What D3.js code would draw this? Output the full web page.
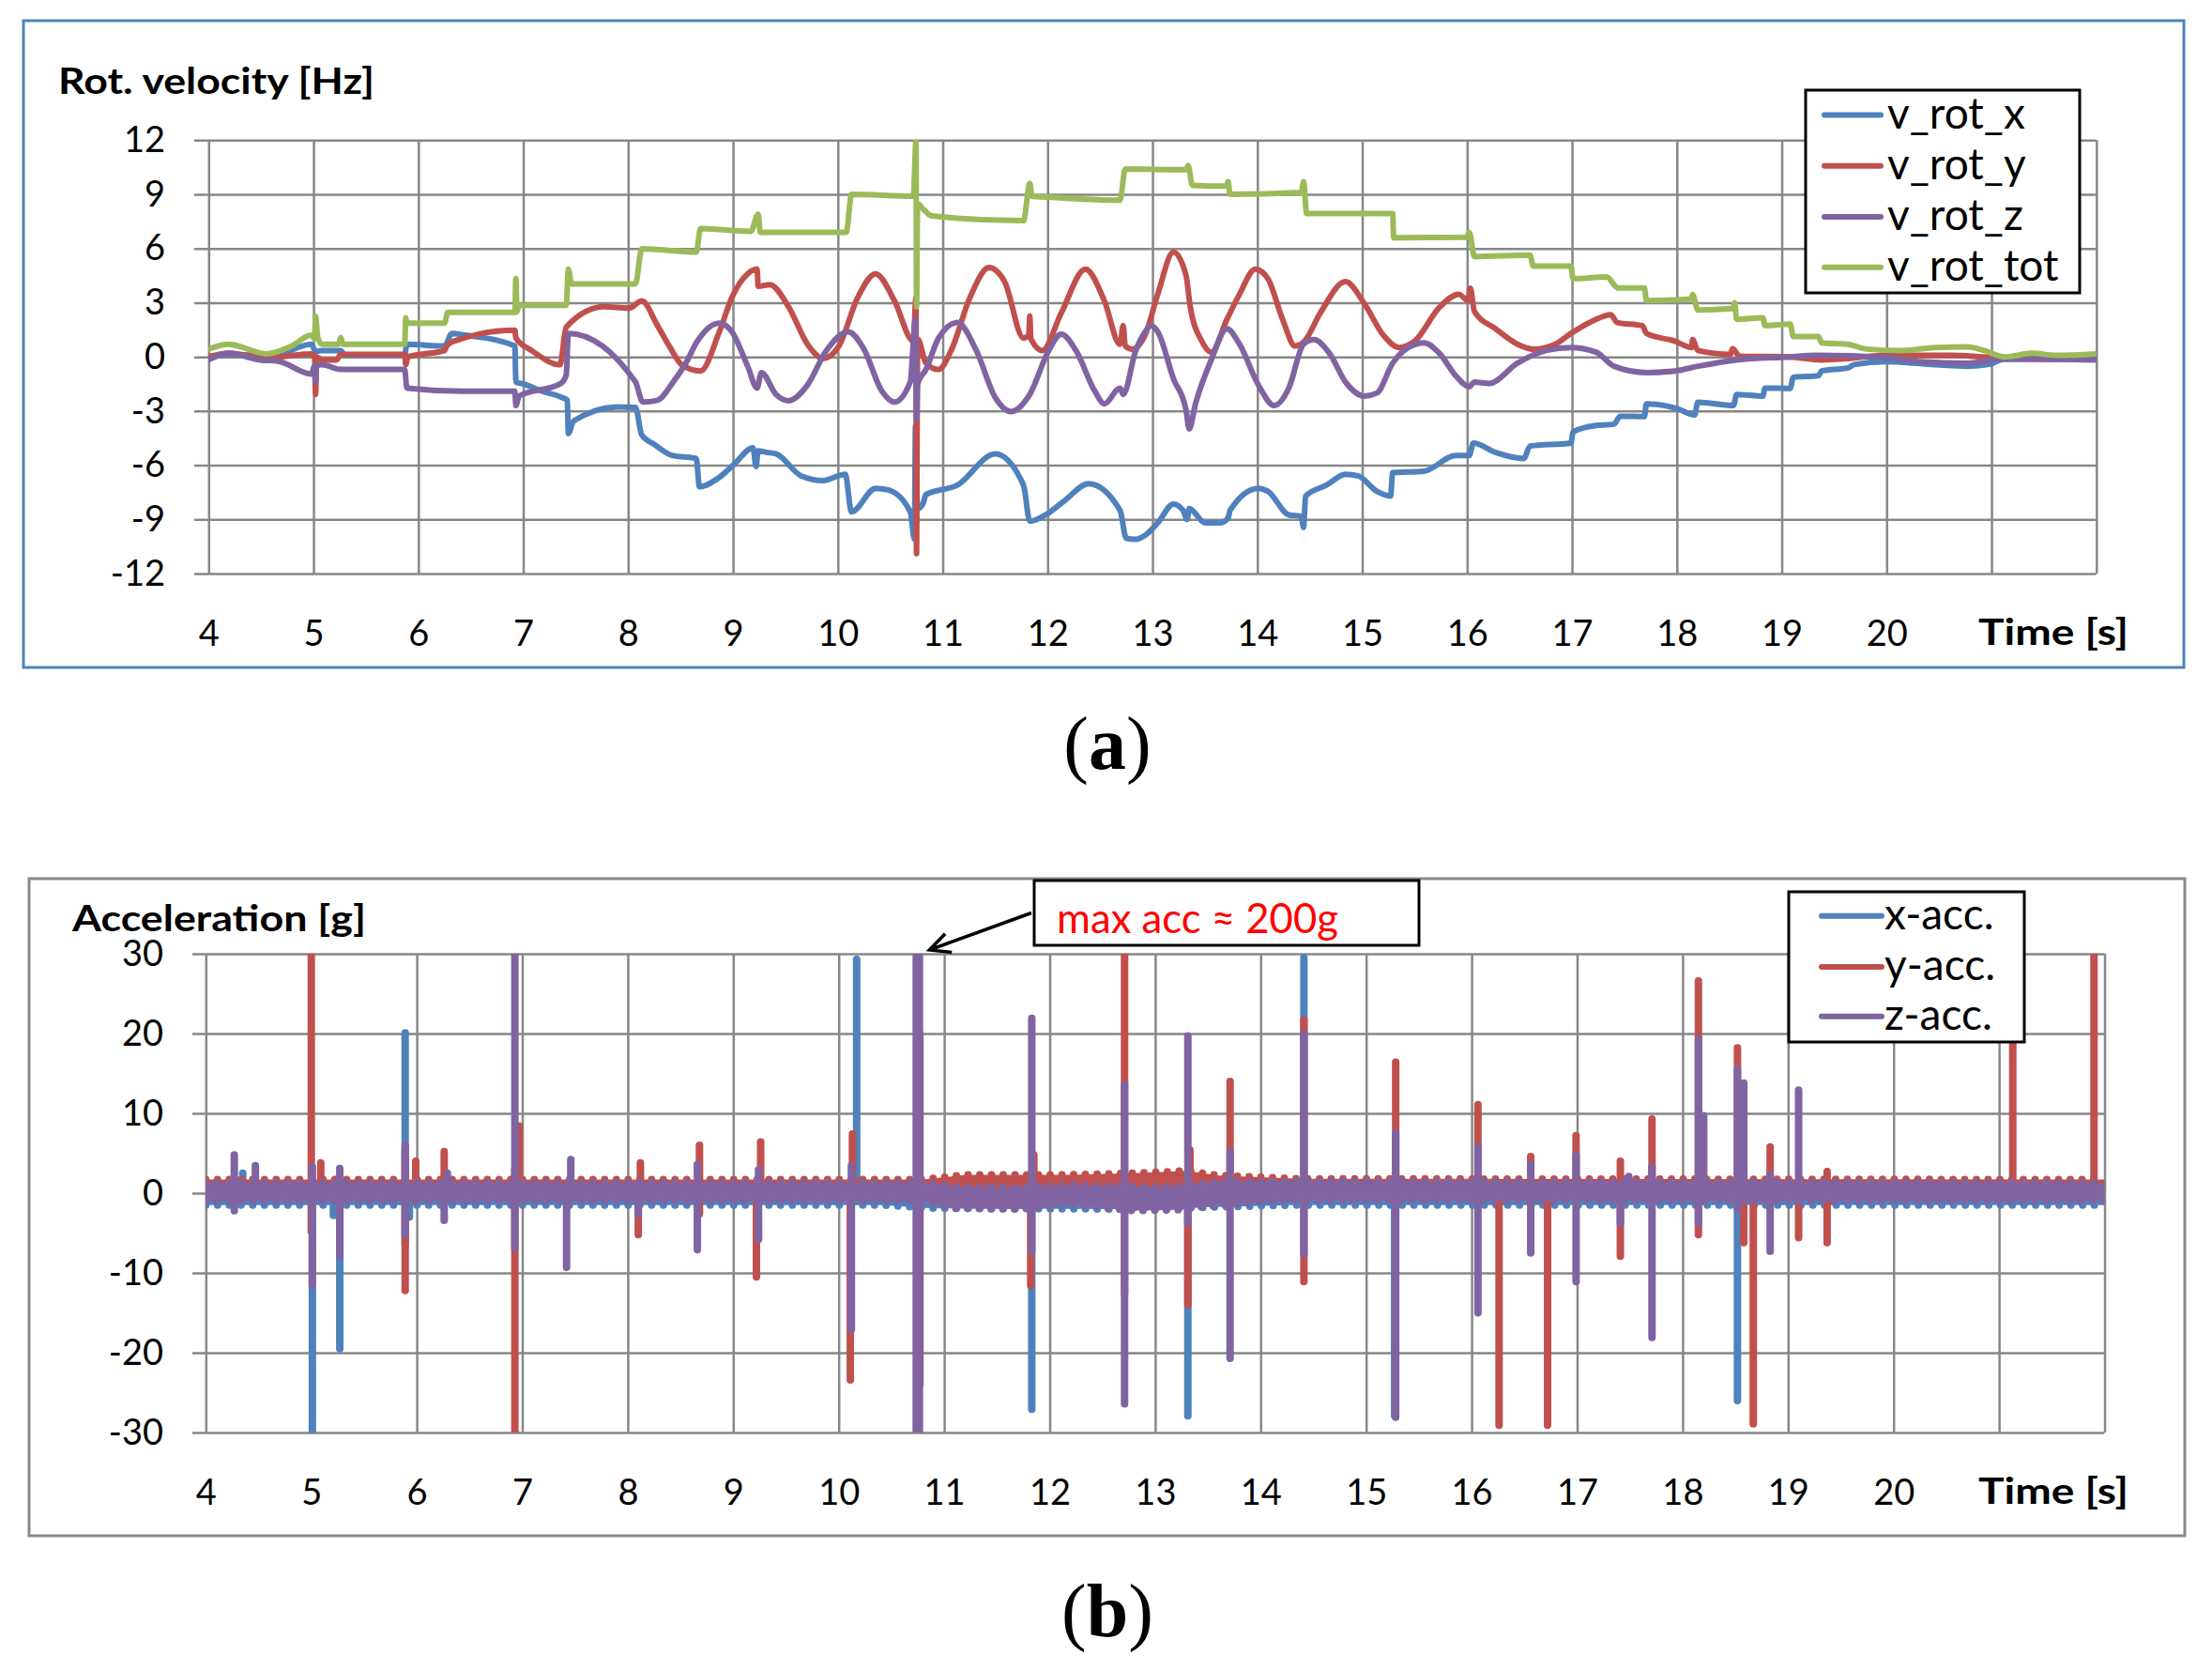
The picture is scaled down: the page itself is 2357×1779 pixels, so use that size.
<!DOCTYPE html>
<html>
<head>
<meta charset="utf-8">
<script src="https://cdn.jsdelivr.net/npm/d3@7"></script>
<style>
  body { margin: 0; background: #fff; }
  svg { display: block; }
</style>
</head>
<body>
<svg id="chart"></svg>
<script>
/* values: (a) rotation velocity, (b) acceleration */

const timeTicks = [4, 5, 6, 7, 8, 9, 10, 11, 12, 13, 14, 15, 16, 17, 18, 19, 20, 21, 22];
const rotTicks = [-12, -9, -6, -3, 0, 3, 6, 9, 12];
const accTicks = [-30, -20, -10, 0, 10, 20, 30];

const rotNames = ["v_rot_x", "v_rot_y", "v_rot_z", "v_rot_tot"];
const accNames = ["x-acc.", "y-acc.", "z-acc."];
const colors = ["#4f81bd", "#c0504d", "#8064a2", "#9bbb59"];

// [time s, velocity Hz]
const vRotX = [[4.00,0.0],[4.19,0.14],[4.6,0.05],[4.98,0.7],[5.02,0.3],[5.08,0.35],[5.26,0.35],[5.3,0.1],[5.87,0.1],[5.89,0.7],
  [6.25,0.6],[6.32,1.3],[6.45,1.2],[6.92,0.6],[6.93,-1.4],[7.0,-1.5],[7.18,-1.9],[7.37,-2.25],[7.42,-2.4],[7.43,-4.25],[7.48,-3.55],
  [7.9,-2.77],[8.07,-2.8],[8.13,-4.33],[8.25,-4.85],[8.42,-5.46],[8.65,-5.63],[8.68,-7.19],[8.87,-6.67],[9.02,-5.89],[9.19,-5.03],
  [9.22,-6.07],[9.24,-5.2],[9.32,-5.29],[9.41,-5.37],[9.65,-6.59],[9.86,-6.85],[10.07,-6.5],[10.13,-8.58],[10.36,-7.28],[10.48,-7.37],
  [10.69,-8.58],[10.73,-10.1],[10.74,-3.8],[10.76,-8.4],[10.81,-8.15],[10.84,-7.63],[11.14,-7.1],[11.5,-5.37],[11.77,-7.1],[11.83,-9.1],
  [11.98,-8.75],[12.16,-7.97],[12.39,-7.02],[12.69,-8.49],[12.75,-10.05],[12.84,-10.1],[12.93,-9.88],[13.05,-9.19],[13.2,-8.15],
  [13.29,-8.49],[13.33,-9.0],[13.35,-8.4],[13.5,-9.19],[13.65,-9.19],[13.72,-8.93],[13.74,-8.5],[14.01,-7.28],[14.1,-7.45],[14.3,-8.75],
  [14.42,-8.84],[14.44,-9.45],[14.46,-7.71],[14.66,-7.1],[14.84,-6.5],[14.96,-6.59],[15.14,-7.45],[15.27,-7.71],[15.29,-6.41],
  [15.59,-6.33],[15.89,-5.46],[16.02,-5.46],[16.06,-4.77],[16.27,-5.29],[16.54,-5.63],[16.6,-4.94],[16.99,-4.77],[17.01,-4.16],
  [17.21,-3.81],[17.4,-3.73],[17.46,-3.29],[17.69,-3.3],[17.71,-2.6],[18.0,-2.86],[18.17,-3.21],[18.2,-2.51],[18.54,-2.69],[18.57,-2.08],
  [18.82,-2.17],[18.84,-1.73],[19.08,-1.75],[19.11,-1.13],[19.35,-1.04],[19.38,-0.78],[19.63,-0.61],[19.69,-0.43],[20.0,-0.26],
  [20.46,-0.43],[20.77,-0.52],[20.99,-0.4],[21.13,-0.09],[22.0,-0.17]];

const vRotY = [[4.0,0.0],[4.19,0.2],[4.55,-0.05],[4.98,0.17],[5.01,0.1],[5.02,-2.08],[5.03,0.0],[5.08,-0.17],[5.22,-0.17],[5.26,0.14],
  [5.87,0.14],[5.88,-0.43],[5.9,0.0],[6.25,0.35],[6.27,0.6],[6.34,0.87],[6.92,1.47],[6.93,1.04],[7.08,0.35],[7.35,-0.43],[7.41,1.65],
  [7.77,2.77],[8.01,2.7],[8.13,3.1],[8.28,1.73],[8.4,0.52],[8.51,-0.43],[8.69,-0.78],[8.87,1.39],[8.99,3.3],[9.14,4.6],[9.23,4.85],
  [9.24,3.9],[9.35,4.0],[9.53,2.77],[9.71,0.7],[9.86,-0.09],[10.01,0.6],[10.19,3.3],[10.36,4.6],[10.54,3.1],[10.72,0.87],[10.745,3.3],
  [10.75,-10.9],[10.76,1.0],[10.84,-0.35],[10.96,-0.7],[11.08,0.35],[11.26,3.3],[11.44,4.94],[11.59,4.16],[11.77,1.04],[11.82,1.2],
  [11.83,2.25],[11.84,1.0],[11.95,0.35],[12.13,2.43],[12.36,4.85],[12.54,3.12],[12.69,0.7],[12.72,1.73],[12.74,0.6],[12.81,0.43],
  [12.93,1.21],[13.05,3.47],[13.2,5.8],[13.32,4.5],[13.36,2.77],[13.47,0.87],[13.56,0.26],[13.71,2.08],[13.83,3.47],[13.98,4.85],
  [14.1,4.33],[14.24,2.08],[14.36,0.6],[14.45,0.87],[14.6,2.43],[14.84,4.16],[15.02,2.95],[15.2,1.21],[15.35,0.52],[15.5,0.87],
  [15.74,2.77],[15.92,3.47],[16.01,3.12],[16.03,3.8],[16.07,2.51],[16.27,1.56],[16.48,0.7],[16.63,0.43],[16.84,0.7],[16.99,1.3],
  [17.2,2.0],[17.37,2.34],[17.43,1.9],[17.67,1.73],[17.71,1.3],[17.98,0.87],[18.14,0.52],[18.15,0.95],[18.2,0.35],[18.51,0.14],
  [18.53,0.45],[18.6,0.03],[19.07,0.0],[19.38,-0.17],[19.63,-0.1],[20.0,0.09],[20.62,0.09],[20.93,0.0],[22.0,-0.14]];

const vRotZ = [[4.0,-0.17],[4.19,0.2],[4.49,-0.17],[4.67,-0.25],[4.98,-0.95],[5.01,-0.5],[5.02,-1.4],[5.03,-0.5],[5.08,-0.43],
  [5.26,-0.7],[5.87,-0.7],[5.89,-1.73],[6.42,-1.9],[6.92,-1.9],[6.93,-2.7],[6.96,-2.17],[7.36,-1.47],[7.41,-1.0],[7.43,1.3],
  [8.07,-1.39],[8.14,-2.5],[8.28,-2.4],[8.43,-1.39],[8.55,-0.35],[8.66,0.87],[8.87,1.87],[8.99,1.39],[9.14,-0.52],[9.23,-1.73],
  [9.27,-0.87],[9.41,-2.08],[9.53,-2.43],[9.71,-1.56],[9.89,0.35],[10.1,1.39],[10.24,0.52],[10.42,-1.9],[10.54,-2.5],[10.69,-1.39],
  [10.74,2.08],[10.75,-3.47],[10.76,-1.5],[10.84,-0.7],[10.96,1.04],[11.14,1.9],[11.32,0.35],[11.5,-2.25],[11.65,-3.03],[11.83,-2.08],
  [12.01,0.35],[12.13,1.25],[12.27,0.35],[12.45,-1.9],[12.54,-2.6],[12.69,-1.73],[12.72,-2.08],[12.84,0.35],[12.93,1.39],[12.98,1.73],
  [13.05,1.39],[13.2,-1.21],[13.32,-2.95],[13.35,-3.99],[13.41,-2.6],[13.56,-0.17],[13.71,1.56],[13.83,0.7],[14.01,-1.56],[14.16,-2.69],
  [14.3,-1.73],[14.44,0.7],[14.54,0.95],[14.69,0.17],[14.84,-1.39],[15.02,-2.17],[15.14,-2.0],[15.29,-0.35],[15.44,0.52],[15.59,0.78],
  [15.74,0.17],[15.89,-1.04],[16.02,-1.65],[16.07,-1.39],[16.21,-1.47],[16.48,-0.35],[16.75,0.35],[16.99,0.52],[17.23,0.26],
  [17.4,-0.52],[17.71,-0.87],[17.98,-0.78],[18.2,-0.52],[18.57,-0.17],[19.07,0.0],[19.32,0.09],[20.0,-0.03],[20.31,-0.26],
  [20.77,-0.35],[21.08,-0.14],[22.0,-0.14]];

const vRotTot = [[4.0,0.43],[4.19,0.7],[4.55,0.17],[4.79,0.6],[4.98,1.2],[5.01,1.0],[5.02,2.25],[5.04,1.1],[5.08,0.7],[5.24,0.7],
  [5.26,1.07],[5.28,0.7],[5.87,0.7],[5.88,2.17],[5.89,1.87],[6.25,1.87],[6.28,2.46],[6.92,2.46],[6.93,4.33],[6.94,2.5],[6.96,2.86],
  [7.41,2.86],[7.43,4.85],[7.46,4.04],[8.07,4.04],[8.13,5.98],[8.65,5.8],[8.69,7.1],[9.17,6.95],[9.24,7.9],[9.26,6.9],[10.08,6.9],
  [10.13,9.0],[10.72,8.9],[10.745,12],[10.75,2.77],[10.76,8.5],[10.81,8.2],[10.9,7.8],[11.77,7.54],[11.83,9.6],[11.85,8.9],
  [12.01,8.84],[12.69,8.67],[12.74,10.4],[13.32,10.36],[13.34,10.6],[13.38,9.5],[13.71,9.45],[13.72,9.7],[13.74,9.0],[14.42,9.1],
  [14.44,9.7],[14.47,7.94],[15.29,7.94],[15.30,6.59],[16.0,6.62],[16.02,6.9],[16.07,5.55],[16.6,5.63],[16.63,5.03],[16.99,5.03],
  [17.01,4.33],[17.33,4.42],[17.44,3.81],[17.69,3.81],[17.71,3.12],[18.14,3.2],[18.15,3.45],[18.2,2.6],[18.54,2.69],[18.55,3.0],
  [18.57,2.08],[18.82,2.17],[18.84,1.73],[19.08,1.82],[19.11,1.13],[19.35,1.13],[19.38,0.78],[19.63,0.7],[19.81,0.43],[20.15,0.35],
  [20.46,0.52],[20.77,0.55],[20.93,0.35],[21.13,0.0],[21.39,0.2],[21.61,0.09],[22.0,0.17]];

// baseline vibration band of each acceleration: [time, low g, high g]
const accXBand = [[4,-1.5,0.3],[10.4,-1.5,0.3],[10.9,-1.9,0],[12.6,-2.0,0],[13.4,-1.8,0.1],[14.3,-1.5,0.3],[22,-1.5,0.3]];
const accYBand = [[4,-0.7,1.7],[10.8,-0.7,1.7],[11.2,-0.4,2.3],[12.2,-0.5,2.3],[12.8,-0.9,2.5],[13.3,-0.9,2.8],[13.6,-0.7,2.2],
  [14.4,-0.6,1.8],[22,-0.6,1.7]];
const accZBand = [[4,-1.0,1.3],[10.8,-1.0,1.3],[11.1,-1.9,0.8],[11.7,-2.0,0.7],[12.2,-1.4,1.0],[12.8,-2.2,0.8],[13.2,-2.1,0.8],
  [13.6,-1.5,1.4],[14.3,-0.9,1.5],[22,-1.0,1.3]];

// impact spikes: [time, min g, max g]
const accXSpikes = [[4.35,-0.5,2.5],[5.01,-30,0.5],[5.21,-2.8,0.3],[5.27,-19.5,0.3],[5.89,-6.5,20.1],[5.93,-3,1],[6.93,-2,1],
  [10.17,-1,29.3],[10.75,-30,5],[11.83,-27.1,0.5],[13.31,-27.9,0.5],[14.41,-1,29.5],[15.27,-27.9,0.5],[18.52,-26,0.5]];
const accYSpikes = [[5.0,-4.8,30],[5.09,-0.5,3.8],[5.89,-12.2,5.2],[5.99,-1,4],[6.26,-0.5,5.2],[6.93,-30,3],[6.97,-0.5,8.4],
  [8.10,-5.2,0.5],[8.12,-0.5,3.8],[8.68,-2.6,6],[9.22,-10.5,0.5],[9.26,-0.5,6.4],[10.11,-23.4,0.5],[10.13,-0.5,7.4],
  [10.77,-24,20],[11.82,-11.6,0.5],[11.85,0,4.8],[12.71,-12.6,30],[13.31,-14,0.5],[13.33,0,5.4],[13.71,-0.5,14],
  [14.41,-11.1,21.7],[15.28,-0.5,16.4],[16.06,-0.5,11.1],[16.26,-29.1,0.5],[16.56,-0.5,4.6],[16.72,-29.1,0.5],[16.99,-0.5,7.2],
  [17.41,-7.9,4],[17.71,-0.5,9.3],[18.15,-5.2,26.6],[18.52,-0.5,18.2],[18.58,-6.2,0.5],[18.67,-28.9,0.5],[18.83,-0.5,5.8],
  [19.1,-5.6,0.5],[19.37,-6.2,2.7],[21.13,-0.5,25],[21.9,-0.5,30]];
const accZSpikes = [[4.27,-2.2,4.8],[4.47,-0.5,3.45],[5.01,-11.5,3.3],[5.27,-7.9,3.1],[5.89,-5.2,6],[6.26,-3.4,0.5],[6.29,0,2.5],
  [6.93,-6.9,30],[7.42,-9.3,0.5],[7.46,0,4.2],[8.1,-2.6,0.5],[8.66,-7.1,3.6],[9.24,-5.8,2.9],[10.12,-17.1,3.45],[10.735,-30,30],
  [10.765,-30,30],[11.83,-7.3,21.9],[12.71,-26.4,13.6],[13.31,-3.8,19.7],[13.71,-20.7,5.2],[14.41,-7.7,19.9],[15.28,-28.1,7.6],
  [16.06,-15,5.8],[16.56,-7.5,3.6],[16.99,-11.1,4.8],[17.41,-3.8,0.5],[17.49,0,2.1],[17.71,-18.1,3.3],[18.15,-3.8,19.3],
  [18.2,-1,9.7],[18.52,-2,15.6],[18.58,-1,13.8],[18.83,-7.3,2.3],[19.1,-1,12.9]];

const note = "max acc \u2248 200g";

const W = 2357, H = 1779;
const svg = d3.select("#chart").attr("width", W).attr("height", H)
  .style("font-family", "Lato, sans-serif");

const gridColor = "#878787";

function styleAxis(g) {
  g.attr("font-family", "Lato, sans-serif").attr("font-size", 38);
  g.select(".domain").remove();
  g.selectAll(".tick line").attr("stroke", gridColor).attr("stroke-width", 2.5);
  g.selectAll(".tick text").attr("fill", "#000");
}

function drawFrame(p) {
  svg.append("rect")
    .attr("x", p.box[0]).attr("y", p.box[1])
    .attr("width", p.box[2] - p.box[0]).attr("height", p.box[3] - p.box[1])
    .attr("fill", "#fff").attr("stroke", p.boxColor).attr("stroke-width", 3);

  svg.append("g")
    .attr("transform", `translate(${p.gridLeft},0)`)
    .call(d3.axisLeft(p.y).tickValues(p.yTicks)
      .tickSize(-(p.x.range()[1] - p.gridLeft)).tickPadding(p.gridLeft - p.labelRight)
      .tickFormat(d => String(d)))
    .call(styleAxis);

  svg.append("g")
    .attr("transform", `translate(0,${p.y.range()[0]})`)
    .call(d3.axisBottom(p.x).tickValues(timeTicks)
      .tickSize(-(p.y.range()[0] - p.y.range()[1])).tickPadding(50)
      .tickFormat(d => d <= 20 ? String(d) : ""))
    .call(styleAxis);

  svg.append("text")
    .attr("x", p.titleX).attr("y", p.titleY)
    .attr("font-weight", 700).attr("font-size", 39)
    .attr("textLength", p.titleLen).attr("lengthAdjust", "spacingAndGlyphs")
    .text(p.title);

  svg.append("text")
    .attr("x", 2108).attr("y", p.y.range()[0] + 76)
    .attr("font-weight", 700).attr("font-size", 39)
    .attr("textLength", 160).attr("lengthAdjust", "spacingAndGlyphs")
    .text("Time [s]");

  svg.append("clipPath").attr("id", p.id)
    .append("rect")
    .attr("x", p.x.range()[0]).attr("y", p.y.range()[1])
    .attr("width", p.x.range()[1] - p.x.range()[0])
    .attr("height", p.y.range()[0] - p.y.range()[1]);
}

function drawLegend(x0, y0, w, rows, names, rowCols) {
  const g = svg.append("g");
  g.append("rect").attr("x", x0).attr("y", y0).attr("width", w).attr("height", rows.boxH)
    .attr("fill", "#fff").attr("stroke", "#000").attr("stroke-width", 3);
  names.forEach((n, i) => {
    g.append("line")
      .attr("x1", x0 + rows.lineX[0]).attr("x2", x0 + rows.lineX[1])
      .attr("y1", rows[i]).attr("y2", rows[i])
      .attr("stroke", rowCols[i]).attr("stroke-width", 6).attr("stroke-linecap", "round");
    g.append("text")
      .attr("x", x0 + rows.textX).attr("y", rows[i] + 14)
      .attr("font-size", 46).text(n);
  });
}

/* ---------- (a) rotation velocity ---------- */
const xA = d3.scaleLinear([4, 22], [222.3, 2233.8]);
const yA = d3.scaleLinear([-12, 12], [611, 149.3]);

drawFrame({
  id: "clipA", box: [25, 22, 2327, 711], boxColor: "#4f81bd",
  x: xA, y: yA, yTicks: rotTicks, gridLeft: 207, labelRight: 176,
  title: "Rot. velocity [Hz]", titleX: 62, titleY: 100, titleLen: 337
});

const lineA = d3.line().x(d => xA(d[0])).y(d => yA(d[1])).curve(d3.curveMonotoneX);
svg.append("g").attr("clip-path", "url(#clipA)")
  .attr("fill", "none").attr("stroke-width", 6)
  .attr("stroke-linejoin", "round").attr("stroke-linecap", "round")
  .selectAll("path")
  .data([vRotX, vRotY, vRotZ, vRotTot])
  .join("path")
  .attr("stroke", (d, i) => colors[i])
  .attr("d", lineA);

const rowsA = [122.6, 176.8, 231, 284.8];
rowsA.boxH = 216; rowsA.lineX = [20, 80]; rowsA.textX = 87;
drawLegend(1924, 96, 292, rowsA, rotNames, colors);

/* ---------- (b) acceleration ---------- */
const xB = d3.scaleLinear([4, 22], [219.3, 2242.5]);
const yB = d3.scaleLinear([-30, 30], [1526, 1016]);

drawFrame({
  id: "clipB", box: [31, 936, 2328, 1636], boxColor: "#898989",
  x: xB, y: yB, yTicks: accTicks, gridLeft: 205, labelRight: 174,
  title: "Acceleration [g]", titleX: 77, titleY: 992, titleLen: 313
});

const bandArea = d3.area().x(d => xB(d[0])).y0(d => yB(d[1])).y1(d => yB(d[2]));
const edgeLo = d3.line().x(d => xB(d[0])).y(d => yB(d[1]));
const edgeHi = d3.line().x(d => xB(d[0])).y(d => yB(d[2]));
const spikeLine = d3.line().x(d => xB(d[0])).y(d => yB(d[1]));

const accSeries = [
  { band: accXBand, spikes: accXSpikes, color: colors[0] },
  { band: accYBand, spikes: accYSpikes, color: colors[1] },
  { band: accZBand, spikes: accZSpikes, color: colors[2] }
];

const gB = svg.append("g").attr("clip-path", "url(#clipB)");
accSeries.forEach(s => {
  const g = gB.append("g");
  g.append("path").attr("d", bandArea(s.band)).attr("fill", s.color);
  [edgeLo, edgeHi].forEach(e => {
    g.append("path").attr("d", e(s.band))
      .attr("fill", "none").attr("stroke", s.color).attr("stroke-width", 8)
      .attr("stroke-linecap", "round").attr("stroke-dasharray", "0 12.5");
  });
  g.selectAll("path.spike")
    .data(s.spikes)
    .join("path")
    .attr("class", "spike")
    .attr("d", d => spikeLine([[d[0], d[1]], [d[0], d[2]]]))
    .attr("fill", "none").attr("stroke", s.color).attr("stroke-width", 8)
    .attr("stroke-linecap", "round");
});

const rowsB = [975.8, 1029.9, 1082.7];
rowsB.boxH = 160; rowsB.lineX = [35, 99]; rowsB.textX = 102;
drawLegend(1906, 950, 251, rowsB, accNames, colors);

// annotation box with arrow to the biggest impact
const nb = { x: 1102, y: 938, w: 410, h: 69 };
svg.append("rect").attr("x", nb.x).attr("y", nb.y).attr("width", nb.w).attr("height", nb.h)
  .attr("fill", "#fff").attr("stroke", "#000").attr("stroke-width", 3);
svg.append("text").attr("x", nb.x + 24).attr("y", 994)
  .attr("font-size", 44).attr("fill", "#ff0000")
  .attr("textLength", 300).attr("lengthAdjust", "spacingAndGlyphs")
  .text(note);

const tip = [xB(10.86), yB(30) - 4];
const tail = [nb.x - 3, nb.y + nb.h / 2];
const ang = Math.atan2(tail[1] - tip[1], tail[0] - tip[0]);
const headLen = 24, spread = 0.45;
svg.append("path")
  .attr("d", `M${tail[0]},${tail[1]}L${tip[0]},${tip[1]}` +
    `M${tip[0] + headLen * Math.cos(ang - spread)},${tip[1] + headLen * Math.sin(ang - spread)}` +
    `L${tip[0]},${tip[1]}` +
    `L${tip[0] + headLen * Math.cos(ang + spread)},${tip[1] + headLen * Math.sin(ang + spread)}`)
  .attr("fill", "none").attr("stroke", "#000").attr("stroke-width", 3.5);

// sub-figure captions
[["(a)", 819], ["(b)", 1743]].forEach(([t, yy]) => {
  const txt = svg.append("text")
    .attr("x", 1180).attr("y", yy).attr("text-anchor", "middle")
    .attr("font-family", "'Liberation Serif', serif").attr("font-weight", 700)
    .attr("font-size", 80);
  txt.append("tspan").attr("font-weight", 400).text("(");
  txt.append("tspan").text(t[1]);
  txt.append("tspan").attr("font-weight", 400).text(")");
});
</script>
</body>
</html>
